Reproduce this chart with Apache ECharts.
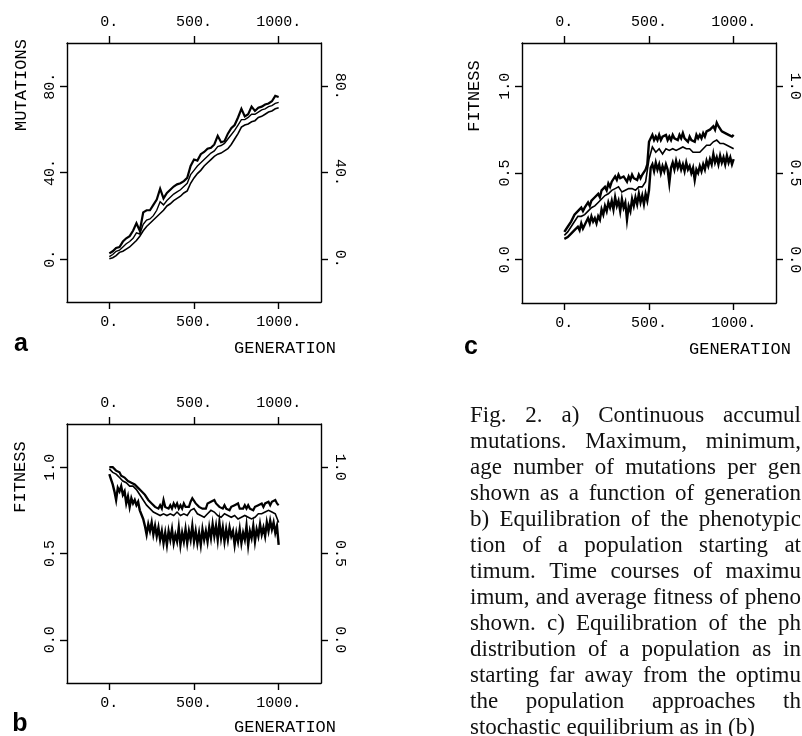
<!DOCTYPE html>
<html><head><meta charset="utf-8">
<script src="https://cdn.jsdelivr.net/npm/echarts@6/dist/echarts.min.js"></script>
<style>html,body{margin:0;padding:0;background:#fff;overflow:hidden}#c{width:802px;height:736px}</style>
</head><body><div id="c"></div>
<script>
// ---------- data ----------
const generations = [0,20,40,60,80,100,120,140,160,180,200,220,240,260,280,300,320,340,360,380,400,420,440,460,480,500,520,540,560,580,600,620,640,660,680,700,720,740,760,780,800,820,840,860,880,900,920,940,960,980,1000];
const generationsFine = [0,10,20,30,40,50,60,70,80,90,100,110,120,130,140,150,160,170,180,190,200,210,220,230,240,250,260,270,280,290,300,310,320,330,340,350,360,370,380,390,400,410,420,430,440,450,460,470,480,490,500,510,520,530,540,550,560,570,580,590,600,610,620,630,640,650,660,670,680,690,700,710,720,730,740,750,760,770,780,790,800,810,820,830,840,850,860,870,880,890,900,910,920,930,940,950,960,970,980,990,1000];

// panel a: mutations (max, average, min)
const mutMax = [2.5,3.5,5.0,5.5,8.0,9.5,10.5,13.0,16.5,13.0,21.5,22.5,22.5,25.0,27.5,32.5,28.0,30.5,32.0,33.5,34.5,35.0,36.0,37.5,43.0,46.0,45.5,48.5,49.5,51.0,51.5,53.0,57.0,54.0,54.5,58.0,60.5,62.0,65.5,69.5,66.0,67.0,70.5,68.5,70.0,70.5,71.5,72.0,73.0,75.5,75.0];
const mutAvg = [1.0,2.0,3.5,4.0,5.5,7.0,8.0,9.5,12.0,11.5,16.0,18.0,18.5,20.0,22.5,26.5,25.0,27.0,28.5,30.0,31.0,32.0,33.5,35.0,39.0,41.0,43.0,44.5,46.0,47.5,49.0,50.0,52.0,52.5,53.5,55.5,57.5,59.5,62.0,64.5,64.5,65.5,67.0,67.0,68.0,69.0,69.5,70.5,71.0,72.0,72.5];
const mutMin = [0.0,0.5,1.5,3.0,3.5,4.5,5.5,7.0,8.5,10.5,13.0,15.0,16.5,18.0,19.5,21.0,22.5,24.5,25.5,27.0,28.0,29.0,30.5,31.5,35.0,37.5,39.5,41.0,43.0,44.5,46.0,47.5,48.5,49.0,50.0,51.0,53.0,55.5,58.0,61.0,62.0,62.5,63.5,64.0,65.5,66.0,67.0,68.0,68.5,69.5,70.0];

// panel c: fitness, population starting far from the optimum
const fitCMax = [0.16,0.15,0.19,0.18,0.22,0.21,0.26,0.25,0.28,0.27,0.30,0.28,0.30,0.29,0.33,0.31,0.34,0.33,0.36,0.35,0.38,0.36,0.40,0.39,0.42,0.40,0.44,0.42,0.45,0.44,0.48,0.46,0.49,0.47,0.46,0.48,0.47,0.45,0.48,0.46,0.49,0.47,0.48,0.46,0.49,0.47,0.49,0.48,0.52,0.55,0.68,0.70,0.72,0.69,0.71,0.69,0.72,0.69,0.71,0.70,0.72,0.69,0.71,0.69,0.72,0.70,0.71,0.69,0.72,0.70,0.73,0.70,0.71,0.68,0.71,0.69,0.70,0.68,0.72,0.70,0.72,0.70,0.73,0.71,0.74,0.73,0.75,0.74,0.77,0.75,0.79,0.77,0.76,0.74,0.75,0.73,0.74,0.72,0.73,0.71,0.72];
const fitCAvg = [0.14,0.16,0.19,0.22,0.25,0.25,0.26,0.28,0.30,0.31,0.33,0.35,0.37,0.38,0.40,0.41,0.42,0.39,0.40,0.41,0.41,0.40,0.42,0.42,0.45,0.58,0.65,0.62,0.64,0.61,0.64,0.63,0.64,0.63,0.64,0.65,0.64,0.64,0.62,0.62,0.62,0.64,0.66,0.66,0.68,0.69,0.67,0.67,0.66,0.65,0.64];
const fitCMin = [0.12,0.11,0.13,0.12,0.15,0.14,0.17,0.16,0.19,0.17,0.21,0.18,0.20,0.22,0.24,0.21,0.25,0.22,0.24,0.21,0.25,0.23,0.29,0.26,0.31,0.28,0.33,0.30,0.34,0.29,0.36,0.31,0.34,0.28,0.35,0.30,0.33,0.23,0.31,0.28,0.35,0.31,0.36,0.32,0.38,0.33,0.37,0.32,0.38,0.34,0.40,0.53,0.55,0.51,0.56,0.52,0.55,0.50,0.54,0.51,0.55,0.52,0.44,0.53,0.56,0.52,0.57,0.53,0.56,0.52,0.55,0.51,0.56,0.52,0.54,0.50,0.53,0.46,0.52,0.50,0.54,0.51,0.55,0.52,0.57,0.54,0.58,0.55,0.61,0.56,0.59,0.55,0.60,0.56,0.59,0.55,0.60,0.56,0.59,0.55,0.58];

// panel b: fitness, population starting at the optimum
const fitBMax = [1.00,1.00,1.00,0.99,0.98,0.97,0.97,0.95,0.96,0.94,0.94,0.92,0.93,0.91,0.92,0.90,0.90,0.88,0.88,0.86,0.86,0.84,0.84,0.81,0.82,0.79,0.80,0.77,0.78,0.76,0.78,0.76,0.81,0.77,0.78,0.76,0.78,0.76,0.79,0.77,0.79,0.76,0.78,0.76,0.79,0.77,0.78,0.77,0.80,0.82,0.81,0.79,0.80,0.77,0.78,0.76,0.77,0.76,0.79,0.78,0.80,0.79,0.81,0.79,0.79,0.77,0.78,0.76,0.78,0.76,0.77,0.75,0.77,0.76,0.78,0.77,0.79,0.76,0.77,0.76,0.78,0.76,0.78,0.76,0.77,0.75,0.77,0.76,0.78,0.77,0.79,0.77,0.79,0.78,0.80,0.78,0.80,0.79,0.81,0.79,0.78];
const fitBAvg = [0.99,0.97,0.96,0.94,0.92,0.91,0.89,0.89,0.87,0.84,0.81,0.78,0.76,0.74,0.73,0.72,0.73,0.72,0.73,0.72,0.74,0.72,0.73,0.72,0.75,0.76,0.73,0.72,0.71,0.73,0.75,0.74,0.72,0.71,0.73,0.72,0.71,0.72,0.70,0.71,0.72,0.71,0.70,0.71,0.73,0.73,0.74,0.75,0.74,0.73,0.68];
const fitBMin = [0.96,0.93,0.90,0.86,0.81,0.88,0.86,0.89,0.84,0.86,0.79,0.83,0.77,0.82,0.79,0.81,0.78,0.80,0.75,0.76,0.70,0.66,0.61,0.67,0.63,0.68,0.61,0.66,0.60,0.65,0.58,0.63,0.56,0.62,0.55,0.63,0.58,0.64,0.56,0.61,0.57,0.65,0.55,0.62,0.57,0.64,0.56,0.63,0.58,0.66,0.57,0.63,0.56,0.62,0.55,0.64,0.58,0.63,0.57,0.65,0.59,0.67,0.60,0.66,0.58,0.68,0.59,0.65,0.57,0.64,0.58,0.65,0.60,0.63,0.55,0.62,0.57,0.64,0.56,0.62,0.58,0.66,0.55,0.63,0.59,0.66,0.57,0.64,0.60,0.67,0.61,0.65,0.60,0.68,0.63,0.69,0.64,0.68,0.62,0.66,0.55];

// tick values / labels
const genTicks = [0,500,1000];
const genTickLabels = ['0.','500.','1000.'];
const mutTicks = [0,40,80];
const mutTickLabels = ['0.','40.','80.'];
const fitTicks = [0,0.5,1.0];
const fitTickLabels = ['0.0','0.5','1.0'];

const captionLines = [
  'Fig. 2. a) Continuous accumul',
  'mutations. Maximum, minimum,',
  'age number of mutations per gen',
  'shown as a function of generation',
  'b) Equilibration of the phenotypic',
  'tion of a population starting at',
  'timum. Time courses of maximu',
  'imum, and average fitness of pheno',
  'shown. c) Equilibration of the ph',
  'distribution of a population as in',
  'starting far away from the optimu',
  'the population approaches th',
  'stochastic equilibrium as in (b)'
];

// ---------- chart ----------
const MONO = '"Liberation Mono", "DejaVu Sans Mono", monospace';
const grids = [
  {left:67, top:43, width:254, height:259},   // a
  {left:522, top:43, width:254, height:260},  // c
  {left:67, top:424, width:254, height:259}   // b
];
function lab(ticks, labels){ return v => { const i = ticks.findIndex(t => Math.abs(t-v) < 1e-9); return i >= 0 ? labels[i] : ''; }; }
const lineCol = {color:'#000', width:1.4};
function xAx(g, pos){
  return {gridIndex:g, type:'value', position:pos, min:-250, max:1250,
    splitLine:{show:false},
    axisLine:{show:true, onZero:false, lineStyle:lineCol},
    axisTick:{show:true, inside:false, length:7, customValues:genTicks, lineStyle:lineCol},
    axisLabel:{show:true, customValues:genTicks, formatter:lab(genTicks, genTickLabels), margin:13, color:'#000', fontFamily:MONO, fontSize:15}};
}
function yAx(g, pos, ymin, ymax, ticks, labels){
  return {gridIndex:g, type:'value', position:pos, min:ymin, max:ymax,
    splitLine:{show:false},
    axisLine:{show:true, onZero:false, lineStyle:lineCol},
    axisTick:{show:true, inside:false, length:7, customValues:ticks, lineStyle:lineCol},
    axisLabel:{show:true, customValues:ticks, formatter:lab(ticks, labels), margin: pos==='left'?9:11, rotate: pos==='left'?90:-90, color:'#000', fontFamily:MONO, fontSize:15}};
}
function ser(xi, yi, xs, vals, w){
  return {type:'line', xAxisIndex:xi, yAxisIndex:yi, showSymbol:false, symbol:'none', animation:false,
    lineStyle:{color:'#000', width:w, join:'miter'}, data: xs.map((g,i)=>[g, vals[i]])};
}

function captionGraphics(){
  const size = 23, left = 470, right = 801, top = 427, lead = 26;
  const font = size + 'px "Liberation Serif"';
  const ctx = document.createElement('canvas').getContext('2d');
  ctx.font = font;
  const els = [];
  captionLines.forEach((line, i) => {
    const words = line.split(' ');
    const widths = words.map(w => ctx.measureText(w).width);
    const total = widths.reduce((a,b)=>a+b, 0);
    const last = i === captionLines.length - 1;
    const gap = (!last && words.length > 1) ? (right - left - total) / (words.length - 1) : ctx.measureText(' ').width;
    let x = left;
    words.forEach((w, j) => {
      els.push({type:'text', x:x, y:top + i*lead, silent:true,
        style:{text:w, font:font, fill:'#111', align:'left', verticalAlign:'bottom'}});
      x += widths[j] + gap;
    });
  });
  return els;
}

function txt(t, x, y, rot, font){
  return {type:'text', x:x, y:y, rotation:rot||0, silent:true,
    style:{text:t, font:font, fill:'#000', align:'center', verticalAlign:'middle'}};
}
const NAMEF = '17px ' + MONO;
const LETF = 'bold 25px "Liberation Sans", Arial, sans-serif';

const chart = echarts.init(document.getElementById('c'), null, {renderer:'canvas'});
chart.setOption({
  animation:false,
  backgroundColor:'#fff',
  grid: grids,
  xAxis: [xAx(0,'bottom'), xAx(0,'top'), xAx(1,'bottom'), xAx(1,'top'), xAx(2,'bottom'), xAx(2,'top')],
  yAxis: [
    yAx(0,'left',-20,100,mutTicks,mutTickLabels), yAx(0,'right',-20,100,mutTicks,mutTickLabels),
    yAx(1,'left',-0.25,1.25,fitTicks,fitTickLabels), yAx(1,'right',-0.25,1.25,fitTicks,fitTickLabels),
    yAx(2,'left',-0.25,1.25,fitTicks,fitTickLabels), yAx(2,'right',-0.25,1.25,fitTicks,fitTickLabels)
  ],
  series: [
    ser(0,0,generations,mutMax,2.2), ser(0,0,generations,mutAvg,1.4), ser(0,0,generations,mutMin,1.6),
    ser(2,2,generationsFine,fitCMax,2.4), ser(2,2,generations,fitCAvg,1.6), ser(2,2,generationsFine,fitCMin,2.4),
    ser(4,4,generationsFine,fitBMax,2.2), ser(4,4,generations,fitBAvg,1.6), ser(4,4,generationsFine,fitBMin,2.4)
  ],
  graphic: [
    txt('MUTATIONS', 21, 85, Math.PI/2, NAMEF),
    txt('FITNESS', 474, 96, Math.PI/2, NAMEF),
    txt('FITNESS', 20, 477, Math.PI/2, NAMEF),
    txt('GENERATION', 285, 348, 0, NAMEF),
    txt('GENERATION', 740, 349, 0, NAMEF),
    txt('GENERATION', 285, 727, 0, NAMEF),
    txt('a', 21, 344, 0, LETF),
    txt('c', 471, 347, 0, LETF),
    txt('b', 20, 724, 0, LETF)
  ].concat(captionGraphics())
});
</script></body></html>
